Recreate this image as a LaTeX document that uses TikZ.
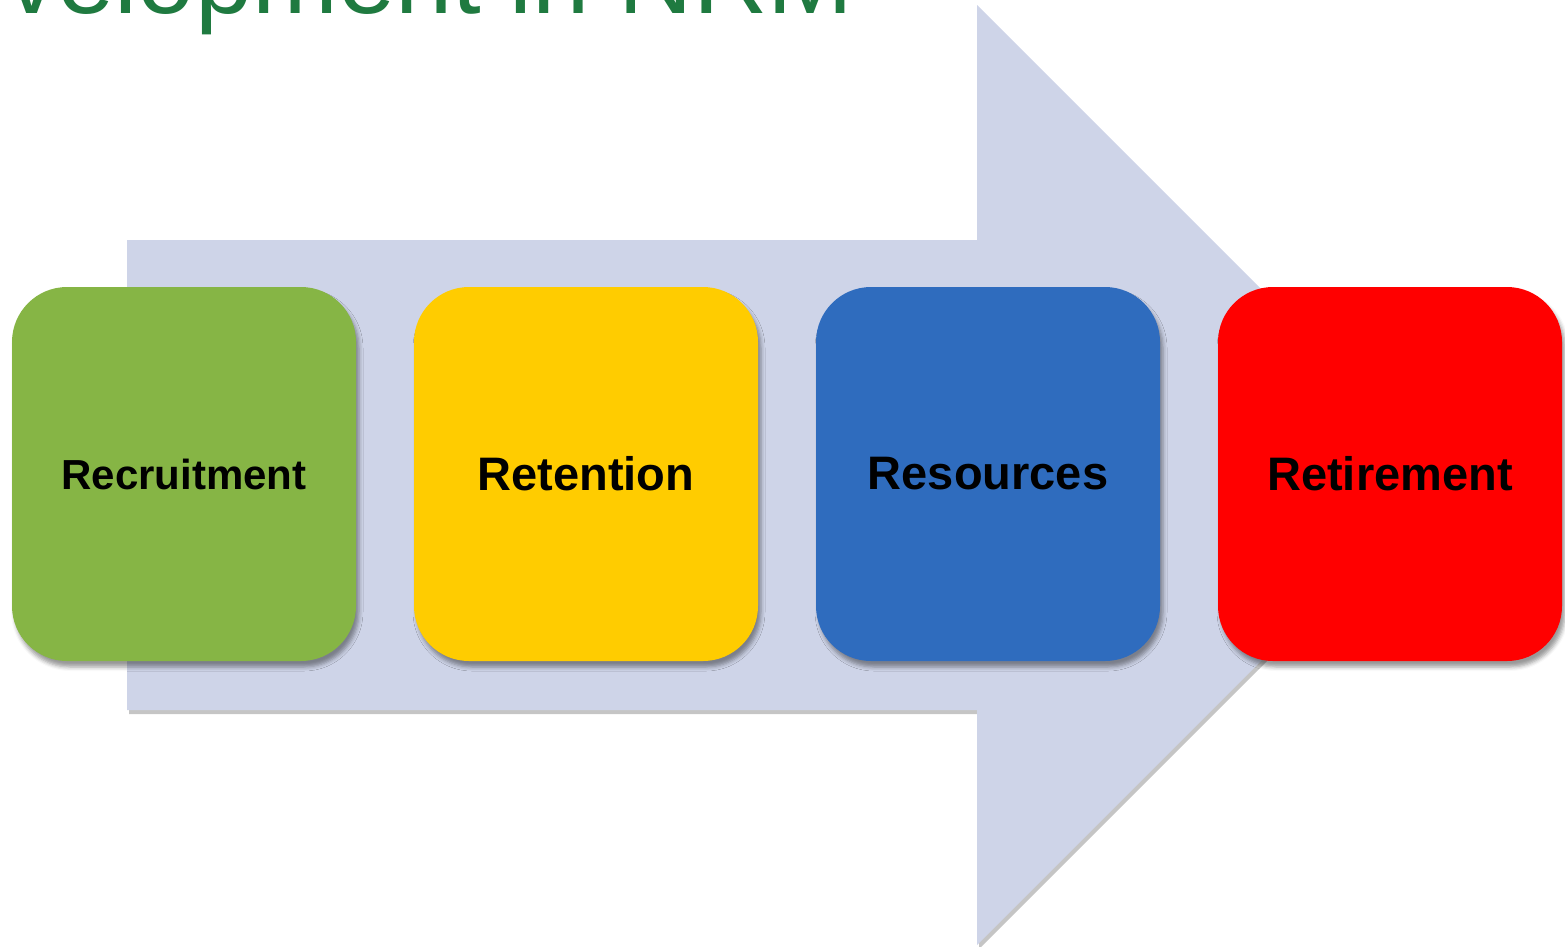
\documentclass[tikz,border=0pt]{standalone}
\usepackage{fontspec}
\setmainfont{Liberation Sans}
\usetikzlibrary{shadows.blur}
\definecolor{arrowc}{HTML}{CED4E8}
\definecolor{greenbox}{HTML}{86B545}
\definecolor{yellowbox}{HTML}{FFCC00}
\definecolor{bluebox}{HTML}{2F6CBE}
\definecolor{redbox}{HTML}{FF0000}
\definecolor{titlec}{HTML}{1F7A40}
\tikzset{
  stagebox/.style={rounded corners=55pt, minimum width=344pt, minimum height=374pt,
    inner sep=0pt, outer sep=0pt, text=black,
    blur shadow={shadow xshift=3pt, shadow yshift=-6pt, shadow blur radius=4pt, shadow opacity=40}},
  bigtext/.style={font=\fontsize{47}{52}\selectfont\bfseries},
  smalltext/.style={font=\fontsize{42}{48}\selectfont\bfseries}
}
\begin{document}
\begin{tikzpicture}[x=1pt,y=-1pt]
\useasboundingbox (0,0) rectangle (1565,946);
% title fragment (cut off at the top edge, as in the source slide)
\node[anchor=base west, inner sep=0pt, text=titlec, font=\fontsize{103}{103}\selectfont] (title) at (6,13) {velopment in NRM};
% arrow shadow
\fill[black!45, opacity=0.5] (129,244) -- (979,244) -- (979,9) -- (1449,479) -- (979,949) -- (979,714) -- (129,714) -- cycle;
% big arrow
\fill[arrowc] (127,240) -- (977,240) -- (977,5) -- (1447,475) -- (977,945) -- (977,710) -- (127,710) -- cycle;
% stage boxes
\node[stagebox, fill=greenbox, smalltext] (rec) at (184,474) {Recruitment};
\node[stagebox, fill=yellowbox, bigtext] (ret) at (586,474) {Retention};
\node[stagebox, fill=bluebox, bigtext] (res) at (988,474) {Resources};
\node[stagebox, fill=redbox, bigtext] (rtm) at (1390,474) {Retirement};
\end{tikzpicture}
\end{document}
